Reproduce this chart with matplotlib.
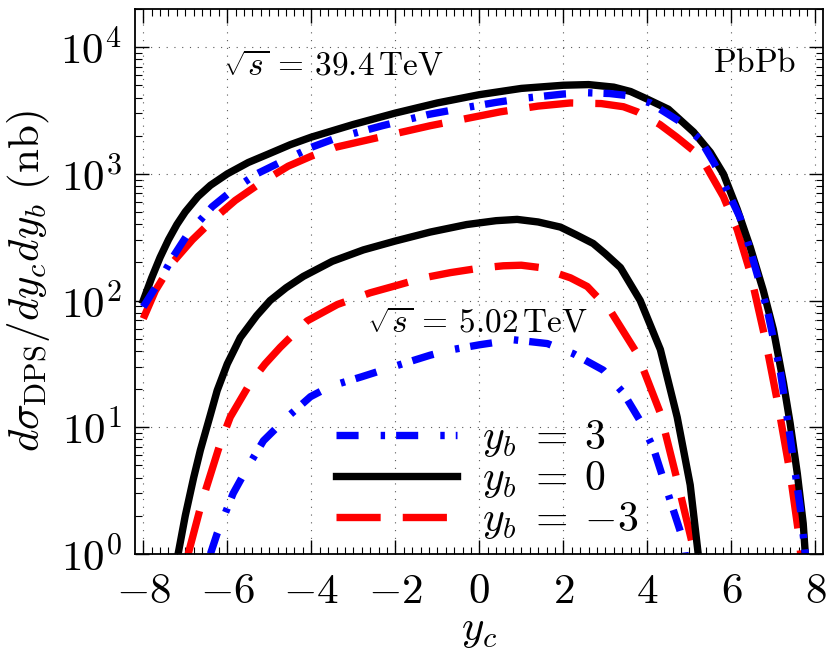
import numpy as np
import matplotlib
matplotlib.use("Agg")
import matplotlib.pyplot as plt
from matplotlib.ticker import MultipleLocator, FuncFormatter, LogLocator

# --- datos ---
# sqrt(s) = 39.4 TeV
x_hi_0 = [-8.0, -7.8, -7.6, -7.4, -7.2, -7.0, -6.7, -6.4, -6.0, -5.5, -5.0, -4.5, -4.0,
          -3.0, -2.0, -1.0, 0.0, 1.0, 2.0, 2.6, 3.2, 3.6, 4.0, 4.5, 5.1, 5.5, 5.81,
          6.14, 6.45, 6.76, 7.0, 7.24, 7.4, 7.57, 7.71, 7.76]
y_hi_0 = [100, 151, 219, 302, 398, 501, 661, 813, 1000, 1230, 1445, 1700, 1950,
          2455, 3020, 3630, 4220, 4730, 5010, 5070, 4840, 4470, 3890, 3240, 2140, 1480, 1000,
          525, 263, 120, 59, 22.4, 10.7, 4.3, 1.74, 1]

x_hi_p3 = [-8.0, -7.64, -7.3, -6.93, -6.6, -6.36, -5.88, -5.3, -4.62, -4.0, -3.43, -2.31,
           -1.2, -0.38, 0.4, 1.14, 2.0, 2.57, 3.1, 3.48, 4.07, 4.79, 5.26, 5.6, 5.9,
           6.2, 6.45, 6.86, 7.17, 7.4, 7.64, 7.76]
y_hi_p3 = [89, 138, 219, 339, 447, 550, 741, 1000, 1290, 1620, 1905, 2400,
           2950, 3310, 3670, 3980, 4270, 4370, 4310, 4170, 3630, 2570, 1860, 1200, 741,
           457, 251, 83, 27, 8.3, 2.3, 1]

x_hi_m3 = [-8.0, -7.71, -7.3, -6.83, -6.3, -5.81, -5.2, -4.55, -4.0, -3.43, -2.64, -1.17,
           0.5, 1.4, 2.17, 2.9, 3.43, 3.76, 4.3, 4.7, 5.26, 5.81, 6.14, 6.45, 6.81,
           7.12, 7.4, 7.6, 7.65]
y_hi_m3 = [72, 120, 200, 302, 447, 617, 851, 1150, 1380, 1620, 1860, 2400,
           3090, 3430, 3630, 3590, 3390, 3090, 2450, 1950, 1380, 661, 363, 166, 49,
           14.5, 4.3, 1.45, 1]

# sqrt(s) = 5.02 TeV
x_lo_0 = [-7.17, -7.0, -6.8, -6.64, -6.4, -6.24, -6.0, -5.69, -5.3, -4.98, -4.6, -4.19,
          -3.5, -2.76, -2.0, -1.17, -0.3, 0.4, 0.9, 1.4, 1.93, 2.3, 2.71, 3.0, 3.36,
          3.83, 4.31, 4.71, 5.02, 5.21]
y_lo_0 = [1, 2.0, 4.0, 6.6, 12.6, 19.5, 31.6, 51, 76, 100, 126, 155,
          204, 251, 295, 347, 398, 427, 437, 417, 380, 331, 282, 234, 182,
          100, 41, 12, 3.5, 1]

x_lo_p3 = [-6.4, -6.24, -5.86, -5.52, -5.14, -4.57, -4.02, -3.55, -2.8, -2.12, -1.17,
           -0.69, 0.0, 0.81, 1.62, 2.24, 2.95, 3.43, 3.83, 4.14, 4.55, 4.86, 4.9]
y_lo_p3 = [1, 1.45, 3.0, 4.8, 7.8, 12, 17.4, 21, 25, 29.5, 37,
           40.7, 44.7, 49, 45.7, 38, 28.2, 18.6, 11.2, 6.9, 2.6, 1.26, 1]

x_lo_m3 = [-6.93, -6.6, -6.17, -5.93, -5.45, -5.1, -4.74, -4.1, -3.38, -2.6, -1.95,
           -1.33, -0.69, 0.0, 0.57, 1.0, 1.45, 2.17, 2.57, 3.12, 3.76, 4.31, 4.71,
           5.07, 5.12]
y_lo_m3 = [1, 2.6, 7.4, 12, 22.4, 31.6, 42.7, 69, 93, 115, 132,
           151, 166, 180, 188, 190, 182, 151, 129, 83, 38, 12.9, 3.8,
           1.2, 1]

plt.rcParams["mathtext.fontset"] = "cm"
plt.rcParams["font.family"] = "serif"
plt.rcParams["font.serif"] = ["cmr10", "DejaVu Serif"]
plt.rcParams["axes.formatter.use_mathtext"] = True

fig = plt.figure(figsize=(8.3, 6.5), dpi=100)
ax = fig.add_axes([0.163, 0.148, 0.829, 0.838])

lw = 5.3
dashdot = (0, (3, 3, 0.6, 1.5))
dashed = (0, (6, 3))

# rojo abajo, negro en medio, azul arriba
ax.plot(x_hi_m3, y_hi_m3, color="red", lw=lw, ls=dashed)
ax.plot(x_lo_m3, y_lo_m3, color="red", lw=lw, ls=dashed)
ax.plot(x_hi_0, y_hi_0, color="black", lw=lw)
ax.plot(x_lo_0, y_lo_0, color="black", lw=lw)
ax.plot(x_hi_p3, y_hi_p3, color="blue", lw=lw, ls=dashdot)
ax.plot(x_lo_p3, y_lo_p3, color="blue", lw=lw, ls=dashdot)

h_p3, = ax.plot([], [], color="blue", lw=lw, ls=dashdot)
h_0, = ax.plot([], [], color="black", lw=lw)
h_m3, = ax.plot([], [], color="red", lw=lw, ls=dashed)

ax.set_yscale("log")
ax.set_xlim(-8.19, 8.19)
ax.set_ylim(1, 2e4)

ax.xaxis.set_major_locator(MultipleLocator(2))
ax.xaxis.set_minor_locator(MultipleLocator(0.2))
ax.xaxis.set_major_formatter(FuncFormatter(lambda v, p: r"$%g$" % v))
ax.yaxis.set_minor_locator(LogLocator(base=10, subs=np.arange(2, 10)))

ax.tick_params(which="both", direction="in", top=True, right=True, labelsize=31)
ax.tick_params(which="major", length=10, width=1.0)
ax.tick_params(which="minor", length=5, width=0.8)
ax.tick_params(axis="x", pad=14)
ax.tick_params(axis="y", pad=10)
for s in ax.spines.values():
    s.set_linewidth(1.3)

ax.grid(True, which="major", color="0.35", lw=0.8, ls=(0, (1, 6)))

ax.set_xlabel(r"$y_c$", fontsize=31, labelpad=1)
ax.set_ylabel(r"$d\sigma_{\rm DPS}/dy_c dy_b\ (\mathrm{nb})$", fontsize=31, labelpad=6)

ax.text(-6.1, 7200, r"$\sqrt{s}\,=\,39.4\,\mathrm{TeV}$", fontsize=24, ha="left", va="center")
ax.text(7.55, 7400, r"$\mathrm{PbPb}$", fontsize=24, ha="right", va="center")
ax.text(-2.67, 67, r"$\sqrt{s}\,=\,5.02\,\mathrm{TeV}$", fontsize=24, ha="left", va="center")

ax.legend([h_p3, h_0, h_m3], [r"$y_b\;=\;3$", r"$y_b\;=\;0$", r"$y_b\;=\;{-3}$"],
          loc="center left", bbox_to_anchor=(0.405, 0.262), bbox_transform=fig.transFigure,
          frameon=False, fontsize=30, handlelength=2.9, handletextpad=0.6,
          labelspacing=0.0, borderpad=0, borderaxespad=0)

fig.savefig("out.png", dpi=100)
